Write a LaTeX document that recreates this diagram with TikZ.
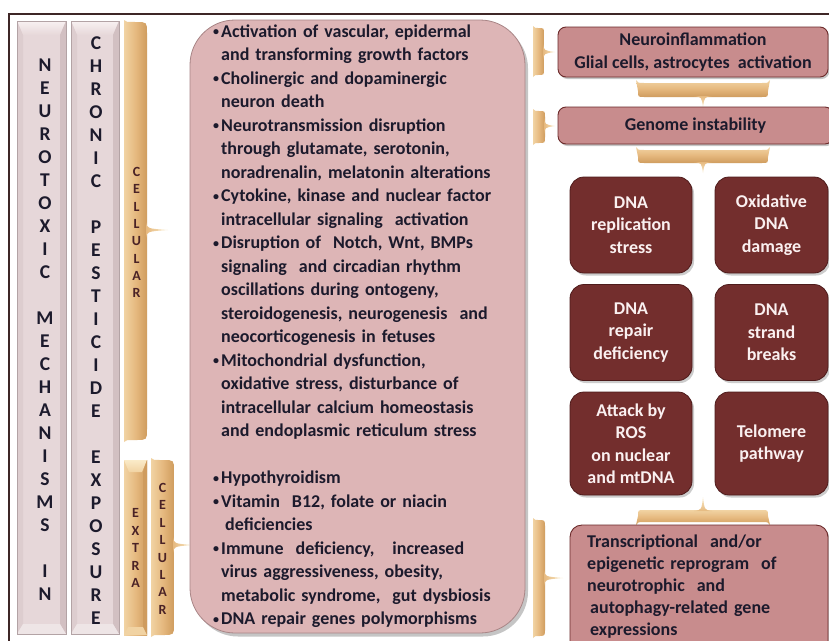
\documentclass[tikz,border=0pt]{standalone}
\usepackage{fontspec}
\setmainfont{Carlito}
\usetikzlibrary{shadows}
\definecolor{frameC}{HTML}{3E2626}
\definecolor{colFill}{HTML}{E6D7D9}
\definecolor{colTop}{HTML}{F8F1F1}
\definecolor{colL}{HTML}{DDCDCF}
\definecolor{colD}{HTML}{D2C0C2}
\definecolor{colB}{HTML}{EEE5E6}
\definecolor{colEdge}{HTML}{B3A3A5}
\definecolor{gold}{HTML}{E6B97F}
\definecolor{goldL}{HTML}{F1D3A3}
\definecolor{goldD}{HTML}{CF9C5E}
\definecolor{goldT}{HTML}{FAEBC8}
\definecolor{mainFill}{HTML}{DDB5B6}
\definecolor{mainEdge}{HTML}{A88586}
\definecolor{rosy}{HTML}{C88C8D}
\definecolor{rosyEdge}{HTML}{6B2A2A}
\definecolor{maroon}{HTML}{732E2D}
\definecolor{maroonEdge}{HTML}{4E1B1B}
\definecolor{txt}{HTML}{1C1A2C}
\definecolor{ltxt}{HTML}{FAF0F0}
\definecolor{brn}{HTML}{4A2226}

% bevelled column: x1 y1 x2 y2
\newcommand\colbevel[4]{%
  \fill[colFill] (#1,#2) rectangle (#3,#4);
  \shade[top color=colTop, bottom color=colFill] (#1,#2) -- (#3,#2) -- ({#3-6},{#2+14}) -- ({#1+6},{#2+14}) -- cycle;
  \fill[colL] (#1,#2) -- ({#1+6},{#2+14}) -- ({#1+6},{#4-10}) -- (#1,#4) -- cycle;
  \fill[colD] (#3,#2) -- ({#3-6},{#2+14}) -- ({#3-6},{#4-10}) -- (#3,#4) -- cycle;
  \fill[colB] (#1,#4) -- ({#1+6},{#4-10}) -- ({#3-6},{#4-10}) -- (#3,#4) -- cycle;
  \draw[colEdge, line width=0.8pt] (#1,#2) rectangle (#3,#4);}
% gold bevelled column
\newcommand\goldbevel[4]{%
  \shade[left color=goldL, right color=goldD, middle color=gold] (#1,#2) rectangle (#3,#4);
  \shade[top color=goldT, bottom color=goldL] (#1,#2) -- (#3,#2) -- ({#3-5},{#2+12}) -- ({#1+5},{#2+12}) -- cycle;
  \fill[goldD] (#3,#2) -- ({#3-4},{#2+12}) -- ({#3-4},{#4-8}) -- (#3,#4) -- cycle;
  \fill[goldL] (#1,#4) -- ({#1+4},{#4-8}) -- ({#3-4},{#4-8}) -- (#3,#4) -- cycle;}
% vertical brace pointing right: xl xr yt yb ytip xtip r
\newcommand\vbrace[7]{%
  \shade[left color=goldL, right color=goldD, middle color=gold]
  (#1,{#3-2}) .. controls ({#1+2},#3) .. ({#2-#7},#3)
  .. controls (#2,#3) .. (#2,{#3+#7})
  -- (#2,{#4-#7})
  .. controls (#2,#4) .. ({#2-#7},#4)
  .. controls ({#1+2},#4) .. (#1,{#4+2}) -- cycle;
  \shade[left color=gold, right color=goldT]
  ({#2-1},{#5-8}) .. controls (#2,{#5-1.5}) .. (#6,#5)
  .. controls (#2,{#5+1.5}) .. ({#2-1},{#5+8}) -- cycle;}
% horizontal brace pointing down: xl xr yt yb xtip ytip r
\newcommand\dbrace[7]{%
  \shade[top color=goldL, bottom color=goldD, middle color=gold]
  ({#1-2},{#3-3}) .. controls (#1,#3) .. ({#1+6},#3)
  -- ({#2-6},#3) .. controls (#2,#3) .. ({#2+2},{#3-3})
  -- (#2,{#4-#7}) .. controls (#2,#4) .. ({#2-#7},#4)
  -- ({#1+#7},#4) .. controls (#1,#4) .. (#1,{#4-#7}) -- cycle;
  \shade[top color=gold, bottom color=goldT]
  ({#5+9},{#4-1}) .. controls ({#5+1.5},#4) .. (#5,#6)
  .. controls ({#5-1.5},#4) .. ({#5-9},{#4-1}) -- cycle;}
% horizontal brace pointing up: xl xr yt yb xtip ytip r
\newcommand\ubrace[7]{%
  \shade[top color=goldL, bottom color=goldD, middle color=gold]
  ({#1-2},{#4+3}) .. controls (#1,#4) .. ({#1+6},#4)
  -- ({#2-6},#4) .. controls (#2,#4) .. ({#2+2},{#4+3})
  -- (#2,{#3+#7}) .. controls (#2,#3) .. ({#2-#7},#3)
  -- ({#1+#7},#3) .. controls (#1,#3) .. (#1,{#3+#7}) -- cycle;
  \shade[top color=goldT, bottom color=gold]
  ({#5+9},{#3+1}) .. controls ({#5+1.5},#3) .. (#5,#6)
  .. controls ({#5-1.5},#3) .. ({#5-9},{#3+1}) -- cycle;}
\newcommand\bu{\makebox[8pt][l]{\raisebox{1.2pt}{\fontsize{12}{12}\selectfont •}}}
\newcommand\ind{\hspace*{8pt}}

\tikzset{
  letter/.style={inner sep=0pt, font=\fontsize{19.5}{19.5}\selectfont\bfseries, text=txt},
  smallletter/.style={inner sep=0pt, font=\fontsize{14}{14}\selectfont\bfseries, text=brn},
  rosybox/.style={draw=rosyEdge, line width=0.9pt, fill=rosy, rounded corners=8pt,
    inner sep=0pt, align=center, text=txt, font=\fontsize{18}{23}\selectfont\bfseries,
    drop shadow={shadow xshift=1.5pt, shadow yshift=-2pt, opacity=0.45}},
  darkbox/.style={draw=maroonEdge, line width=0.8pt, fill=maroon, rounded corners=14pt,
    inner sep=0pt, align=center, text=ltxt, font=\fontsize{18}{22.5}\selectfont\bfseries,
    minimum width=122pt, minimum height=96pt,
    drop shadow={shadow xshift=2pt, shadow yshift=-2.5pt, opacity=0.4}},
}

\begin{document}
\begin{tikzpicture}[x=1pt,y=-1pt]
\clip (0,0) rectangle (829,640);
\fill[white] (0,0) rectangle (829,640);
\draw[frameC, line width=1.3pt] (9,650) -- (9,14) -- (840,14);

% left columns
\colbevel{17}{21}{66}{634}
\colbevel{71}{21}{119}{634}
\foreach \l [count=\i] in {N,E,U,R,O,T,O,X,I,C,,M,E,C,H,A,N,I,S,M,S,,I,N}
  \node[letter] (na\i) at (45,{65+23*(\i-1)}) {\l};
\foreach \l [count=\i] in {C,H,R,O,N,I,C,,P,E,S,T,I,C,I,D,E,,E,X,P,O,S,U,R,E}
  \node[letter] (nb\i) at (96,{43+23*(\i-1)}) {\l};

% gold braces on the left
\vbrace{124}{147}{22}{440}{230}{168}{11}
\foreach \l [count=\i] in {C,E,L,L,U,L,A,R}
  \node[smallletter] (cu\i) at (136.5,{172+17.3*(\i-1)}) {\l};
\goldbevel{124}{460}{147}{635}
\foreach \l [count=\i] in {E,X,T,R,A}
  \node[smallletter] (ex\i) at (135.5,{513+17.5*(\i-1)}) {\l};
\vbrace{151}{174}{460}{635}{545}{192}{11}
\foreach \l [count=\i] in {C,E,L,L,U,L,A,R}
  \node[smallletter] (cl\i) at (162.5,{488+17.4*(\i-1)}) {\l};

% main box
\node[fill=mainFill, draw=mainEdge, line width=0.8pt, rounded corners=45pt,
  minimum width=335pt, minimum height=613pt, inner sep=0pt,
  drop shadow={shadow xshift=3pt, shadow yshift=-3.5pt, opacity=0.45}] (mainbox) at (357.5,326.5) {};
\node[anchor=north west, inner sep=0pt, text width=320pt, align=left, text=txt,
  font=\fontsize{18}{23.5}\selectfont\bfseries] (maintext) at (213,20.5) {%
\strut\bu Activation of vascular, epidermal\\
\ind and transforming growth factors\\
\bu Cholinergic and dopaminergic\\
\ind neuron death\\
\bu Neurotransmission disruption\\
\ind through glutamate, serotonin,\\
\ind noradrenalin, melatonin alterations\\
\bu Cytokine, kinase and nuclear factor\\
\ind intracellular signaling\ \ activation\\
\bu Disruption of\ \ Notch, Wnt, BMPs\\
\ind signaling\ \ and circadian rhythm\\
\ind oscillations during ontogeny,\\
\ind steroidogenesis, neurogenesis\ \ and\\
\ind neocorticogenesis in fetuses\\
\bu Mitochondrial dysfunction,\\
\ind oxidative stress, disturbance of\\
\ind intracellular calcium homeostasis\\
\ind and endoplasmic reticulum stress\\[23.5pt]
\bu Hypothyroidism\\
\bu Vitamin\ \ B12, folate or niacin\\
\ind\hspace*{4pt}deficiencies\\
\bu Immune\ \ deficiency,\ \ \ increased\\
\ind virus aggressiveness, obesity,\\
\ind metabolic syndrome,\ \ gut dysbiosis\\
\bu DNA repair genes polymorphisms};

% right side
\vbrace{533}{544}{28}{75}{52}{555}{6}
\node[rosybox, minimum width=270pt, minimum height=50pt] (neuro) at (693,52)
  {Neuroinflammation\\Glial cells, astrocytes\ \ activation};
\dbrace{638}{768}{83}{97}{703}{107}{6}
\vbrace{533}{545}{111}{143}{126}{555}{6}
\node[rosybox, minimum width=275pt, minimum height=37pt] (genome) at (695.5,125.5)
  {Genome instability};
\dbrace{638}{768}{150}{163}{703}{173}{6}

\node[darkbox] (rep) at (631,225) {DNA\\replication\\stress};
\node[darkbox, minimum width=113pt] (oxi) at (771.5,225) {Oxidative\\DNA\\damage};
\node[darkbox] (repair) at (631,332.5) {DNA\\repair\\deficiency};
\node[darkbox, minimum width=113pt] (strand) at (771.5,332.5) {DNA\\strand\\breaks};
\node[darkbox, minimum height=103pt] (ros) at (631,443.5) {Attack by\\ROS\\on nuclear\\and mtDNA};
\node[darkbox, minimum width=113pt, minimum height=103pt] (telo) at (771.5,443.5) {Telomere\\pathway};

\ubrace{638}{768}{510}{522}{703}{497}{6}
\vbrace{533}{545}{520}{636}{578}{563}{7}
\node[draw=rosyEdge, line width=0.9pt, fill=rosy, rounded corners=12pt, inner sep=0pt,
  minimum width=258pt, minimum height=130pt,
  drop shadow={shadow xshift=1.5pt, shadow yshift=-2pt, opacity=0.45}] (trans) at (699,590) {};
\node[anchor=north west, inner sep=0pt, text width=240pt, align=left, text=txt,
  font=\fontsize{18}{22}\selectfont\bfseries] (transtext) at (587,531.6) {%
\strut Transcriptional\ \ and/or\\
epigenetic reprogram\ \ of\\
neurotrophic\ \ and\\
\hspace*{3pt}autophagy-related gene\\
\hspace*{3pt}expressions};
\end{tikzpicture}
\end{document}
